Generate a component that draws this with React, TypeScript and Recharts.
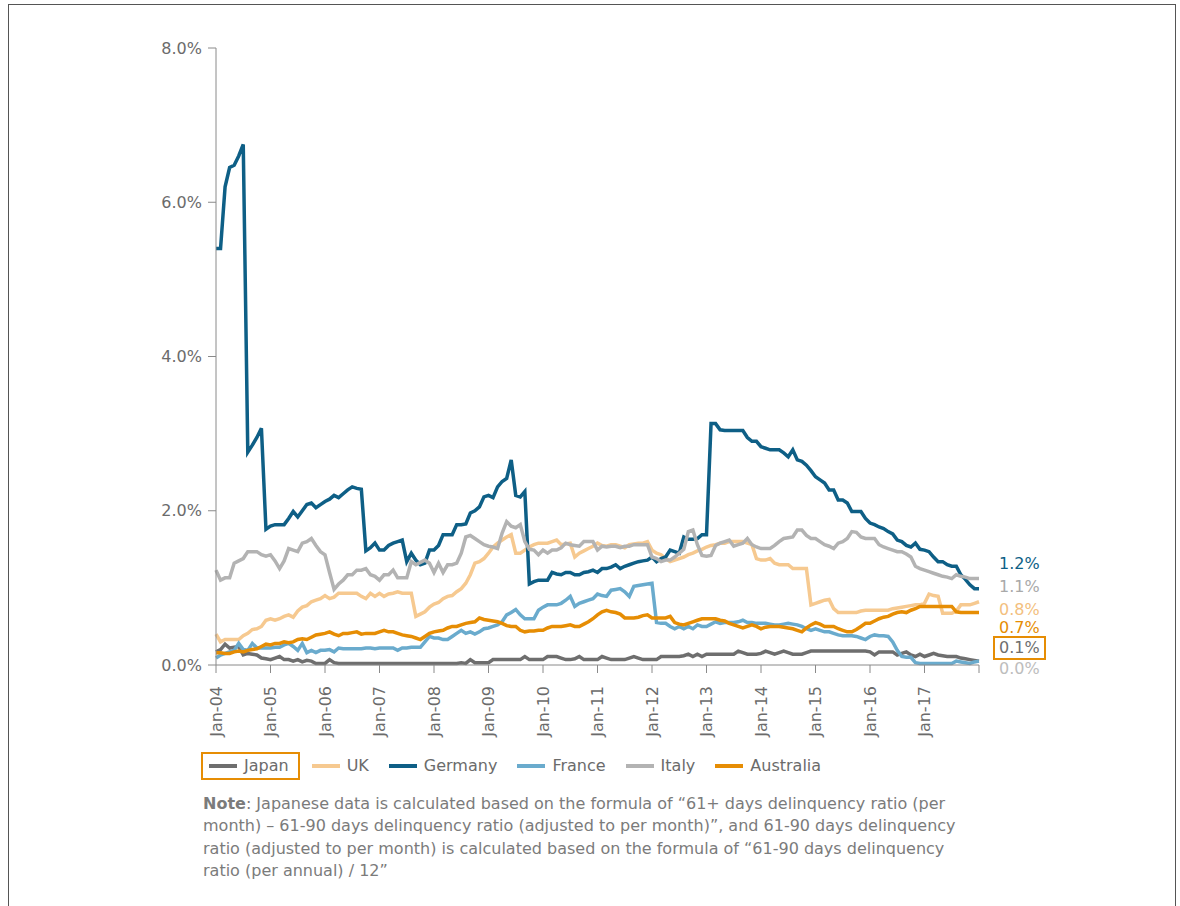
import React from 'react';
import { LineChart, Line, XAxis, YAxis, Legend } from 'recharts';

const FONT = '"DejaVu Sans", Verdana, sans-serif';

// Jan-04 .. Jan-18, one value per month (in %)
const yearLabels = ['Jan-04', 'Jan-05', 'Jan-06', 'Jan-07', 'Jan-08', 'Jan-09', 'Jan-10', 'Jan-11', 'Jan-12', 'Jan-13', 'Jan-14', 'Jan-15', 'Jan-16', 'Jan-17'];

const japan = [
  0.17, 0.2, 0.27, 0.22, 0.23, 0.24, 0.13, 0.15, 0.14, 0.13, 0.09, 0.08,
  0.07, 0.09, 0.11, 0.07, 0.07, 0.05, 0.07, 0.04, 0.06, 0.05, 0.02, 0.02,
  0.02, 0.07, 0.03, 0.02, 0.02, 0.02, 0.02, 0.02, 0.02, 0.02, 0.02, 0.02,
  0.02, 0.02, 0.02, 0.02, 0.02, 0.02, 0.02, 0.02, 0.02, 0.02, 0.02, 0.02,
  0.02, 0.02, 0.02, 0.02, 0.02, 0.02, 0.03, 0.02, 0.07, 0.03, 0.03, 0.03,
  0.03, 0.07, 0.07, 0.07, 0.07, 0.07, 0.07, 0.07, 0.11, 0.07, 0.07, 0.07,
  0.07, 0.11, 0.11, 0.11, 0.09, 0.07, 0.07, 0.08, 0.11, 0.07, 0.07, 0.07,
  0.07, 0.11, 0.09, 0.07, 0.07, 0.07, 0.07, 0.09, 0.11, 0.09, 0.07, 0.07,
  0.07, 0.07, 0.11, 0.11, 0.11, 0.11, 0.11, 0.12, 0.14, 0.11, 0.14, 0.11,
  0.14, 0.14, 0.14, 0.14, 0.14, 0.14, 0.14, 0.18, 0.16, 0.14, 0.14, 0.14,
  0.15, 0.18, 0.16, 0.14, 0.16, 0.18, 0.16, 0.14, 0.14, 0.14, 0.16, 0.18,
  0.18, 0.18, 0.18, 0.18, 0.18, 0.18, 0.18, 0.18, 0.18, 0.18, 0.18, 0.18,
  0.17, 0.13, 0.17, 0.17, 0.17, 0.17, 0.13, 0.15, 0.17, 0.13, 0.11, 0.14,
  0.11, 0.13, 0.15, 0.13, 0.12, 0.11, 0.11, 0.11, 0.09, 0.08, 0.07, 0.06,
  0.05,
];

const uk = [
  0.4, 0.3, 0.33, 0.33, 0.33, 0.33, 0.38, 0.41, 0.46, 0.47, 0.5, 0.58,
  0.6, 0.58, 0.6, 0.63, 0.65, 0.62, 0.7, 0.75, 0.77, 0.82, 0.84, 0.86,
  0.9, 0.86, 0.88, 0.93, 0.93, 0.93, 0.93, 0.93, 0.89, 0.86, 0.93, 0.89,
  0.93, 0.89, 0.92, 0.93, 0.95, 0.93, 0.93, 0.93, 0.63, 0.66, 0.69, 0.75,
  0.79, 0.81, 0.86, 0.89, 0.9, 0.95, 0.99, 1.06, 1.17, 1.32, 1.34, 1.38,
  1.45, 1.53, 1.58, 1.62, 1.66, 1.69, 1.45, 1.45, 1.49, 1.53, 1.56, 1.58,
  1.58, 1.58, 1.6, 1.62, 1.56, 1.57, 1.58, 1.4, 1.45, 1.48, 1.51, 1.54,
  1.58, 1.55, 1.54, 1.56, 1.56, 1.54, 1.52, 1.56, 1.57, 1.58, 1.58, 1.6,
  1.49, 1.45, 1.43, 1.38, 1.34, 1.36, 1.38, 1.4, 1.43, 1.45, 1.48, 1.5,
  1.53, 1.55, 1.56, 1.58, 1.58, 1.6, 1.6, 1.6, 1.6, 1.58, 1.56, 1.38,
  1.36, 1.36, 1.38, 1.32, 1.3, 1.3, 1.3, 1.25, 1.25, 1.25, 1.25, 0.78,
  0.8, 0.82, 0.84, 0.85, 0.73, 0.68, 0.68, 0.68, 0.68, 0.68, 0.7, 0.71,
  0.71, 0.71, 0.71, 0.71, 0.71, 0.73, 0.74, 0.75, 0.76, 0.77, 0.78, 0.78,
  0.8, 0.92, 0.9, 0.89, 0.67, 0.67, 0.67, 0.7, 0.78, 0.78, 0.78, 0.8,
  0.82,
];

const germany = [
  5.4, 5.4, 6.2, 6.45, 6.48, 6.6, 6.75, 2.76, 2.85, 2.95, 3.07, 1.76,
  1.8, 1.82, 1.82, 1.82, 1.9, 1.99, 1.92, 2.0, 2.08, 2.1, 2.04, 2.08,
  2.12, 2.15, 2.2, 2.17, 2.22, 2.27, 2.31, 2.29, 2.28, 1.48, 1.52, 1.58,
  1.49, 1.49, 1.55, 1.58, 1.6, 1.62, 1.34, 1.45, 1.36, 1.3, 1.32, 1.49,
  1.49, 1.55, 1.69, 1.69, 1.69, 1.82, 1.82, 1.83, 1.97, 2.0, 2.05, 2.18,
  2.2, 2.17, 2.31, 2.38, 2.42, 2.66, 2.2, 2.18, 2.25, 1.05, 1.08, 1.1,
  1.1, 1.1, 1.2, 1.18, 1.17, 1.2, 1.2, 1.17, 1.17, 1.2, 1.21, 1.23,
  1.2, 1.25, 1.25, 1.27, 1.3, 1.25, 1.28, 1.3, 1.32, 1.34, 1.35, 1.36,
  1.4, 1.34, 1.38, 1.4, 1.49, 1.47, 1.45, 1.66, 1.63, 1.63, 1.64, 1.69,
  1.69, 3.13, 3.13, 3.05, 3.04, 3.04, 3.04, 3.04, 3.04, 2.95, 2.9, 2.9,
  2.83, 2.81, 2.79, 2.79, 2.79, 2.75, 2.7, 2.79, 2.66, 2.64, 2.59, 2.52,
  2.44, 2.4, 2.36, 2.27, 2.27, 2.14, 2.14, 2.1, 1.99, 1.99, 1.99, 1.9,
  1.84, 1.82, 1.79, 1.77, 1.73, 1.7, 1.62, 1.6, 1.55, 1.53, 1.58, 1.5,
  1.49, 1.47, 1.4, 1.34, 1.34, 1.3, 1.28, 1.28, 1.17, 1.11, 1.04, 0.99,
  0.99,
];

const france = [
  0.09, 0.13, 0.15, 0.17, 0.19, 0.28, 0.2, 0.19, 0.28, 0.22, 0.22, 0.22,
  0.22, 0.23, 0.23, 0.26, 0.28, 0.24, 0.19, 0.28, 0.16, 0.19, 0.16, 0.19,
  0.19, 0.2, 0.17, 0.22, 0.21, 0.21, 0.21, 0.21, 0.21, 0.22, 0.22, 0.21,
  0.22, 0.22, 0.22, 0.22, 0.19, 0.22, 0.22, 0.23, 0.23, 0.23, 0.3, 0.37,
  0.35, 0.35, 0.33, 0.33, 0.37, 0.41, 0.45, 0.41, 0.43, 0.4, 0.43, 0.47,
  0.48, 0.5, 0.52, 0.56, 0.65, 0.68, 0.72, 0.65, 0.6, 0.6, 0.6, 0.71,
  0.75, 0.78, 0.78, 0.78, 0.8, 0.84, 0.89, 0.76, 0.8, 0.82, 0.84, 0.86,
  0.92, 0.9, 0.89, 0.97, 0.98, 0.99, 0.95, 0.89, 1.02, 1.03, 1.04, 1.05,
  1.06, 0.55, 0.54, 0.54, 0.5, 0.47, 0.5, 0.47, 0.5, 0.47, 0.52, 0.5,
  0.5, 0.53, 0.56, 0.54, 0.55, 0.55, 0.55, 0.56, 0.58, 0.55, 0.55, 0.54,
  0.54, 0.54, 0.53, 0.52, 0.52, 0.53, 0.54, 0.53, 0.52, 0.5, 0.47, 0.45,
  0.47, 0.45, 0.43, 0.43, 0.41, 0.39, 0.38, 0.38, 0.38, 0.37, 0.35, 0.33,
  0.37, 0.39, 0.38, 0.38, 0.37, 0.3, 0.19, 0.11, 0.1, 0.1, 0.03, 0.02,
  0.02, 0.02, 0.02, 0.02, 0.02, 0.02, 0.02, 0.05, 0.04, 0.03, 0.02, 0.04,
  0.05,
];

const italy = [
  1.23, 1.1, 1.13, 1.13, 1.32, 1.35, 1.38, 1.47, 1.47, 1.47, 1.43, 1.41,
  1.43, 1.35, 1.25, 1.35, 1.51, 1.49, 1.47, 1.58, 1.6, 1.64, 1.55, 1.47,
  1.43, 1.2, 0.98, 1.05, 1.1, 1.17, 1.17, 1.23, 1.23, 1.25, 1.17, 1.15,
  1.1, 1.17, 1.17, 1.23, 1.13, 1.13, 1.13, 1.34, 1.3, 1.33, 1.36, 1.32,
  1.2, 1.32, 1.2, 1.3, 1.3, 1.32, 1.45, 1.66, 1.68, 1.64, 1.6, 1.56,
  1.54, 1.53, 1.51, 1.71, 1.86, 1.8, 1.78, 1.82, 1.6, 1.5, 1.49, 1.43,
  1.49, 1.45, 1.49, 1.49, 1.52, 1.58, 1.56, 1.55, 1.54, 1.6, 1.6, 1.6,
  1.49, 1.54, 1.53, 1.54, 1.54, 1.52, 1.54, 1.54, 1.56, 1.56, 1.56, 1.56,
  1.4, 1.38, 1.34, 1.36, 1.36, 1.4, 1.45, 1.5, 1.73, 1.75, 1.56, 1.42,
  1.41, 1.42, 1.55, 1.58, 1.6, 1.62, 1.54, 1.56, 1.58, 1.64, 1.56, 1.53,
  1.51, 1.51, 1.51, 1.55, 1.6, 1.64, 1.65, 1.66, 1.75, 1.75, 1.68, 1.64,
  1.64, 1.6, 1.56, 1.54, 1.51, 1.58, 1.6, 1.64, 1.73, 1.72, 1.66, 1.64,
  1.64, 1.64, 1.56, 1.53, 1.51, 1.49, 1.47, 1.47, 1.44, 1.4, 1.28, 1.25,
  1.23, 1.21, 1.19, 1.17, 1.15, 1.14, 1.12, 1.17, 1.15, 1.14, 1.12, 1.12,
  1.12,
];

const australia = [
  0.16, 0.16, 0.15, 0.15, 0.17, 0.18, 0.17, 0.19, 0.2, 0.21, 0.24, 0.27,
  0.26, 0.28, 0.28, 0.3, 0.29, 0.3, 0.33, 0.34, 0.33, 0.36, 0.39, 0.4,
  0.41, 0.43, 0.4, 0.38, 0.41, 0.41, 0.42, 0.43, 0.4, 0.41, 0.41, 0.41,
  0.43, 0.45, 0.43, 0.43, 0.41, 0.39, 0.38, 0.37, 0.35, 0.33, 0.37, 0.41,
  0.43, 0.44, 0.45, 0.48, 0.5, 0.5, 0.52, 0.54, 0.55, 0.56, 0.61, 0.59,
  0.58, 0.57, 0.56, 0.54, 0.51, 0.5, 0.5, 0.45, 0.43, 0.44, 0.44, 0.45,
  0.45, 0.48, 0.5, 0.5, 0.5, 0.51, 0.52, 0.5, 0.5, 0.53, 0.56, 0.6,
  0.65, 0.69, 0.71, 0.69, 0.68, 0.66, 0.61, 0.61, 0.61, 0.62, 0.64, 0.65,
  0.61, 0.61, 0.61, 0.61, 0.63, 0.55, 0.53, 0.52, 0.54, 0.56, 0.58, 0.6,
  0.6, 0.6, 0.6, 0.58, 0.57, 0.54, 0.52, 0.5, 0.48, 0.5, 0.52, 0.5,
  0.47, 0.49, 0.5, 0.5, 0.5, 0.49, 0.48, 0.47, 0.45, 0.43, 0.48, 0.52,
  0.55, 0.53, 0.5, 0.5, 0.5, 0.47, 0.45, 0.43, 0.43, 0.46, 0.5, 0.54,
  0.54, 0.57, 0.6, 0.62, 0.63, 0.66, 0.68, 0.69, 0.68, 0.71, 0.73, 0.76,
  0.76, 0.76, 0.76, 0.76, 0.76, 0.76, 0.76, 0.69, 0.68, 0.68, 0.68, 0.68,
  0.68,
];

// draw order = legend order
const series = [
  { key: 'japan', name: 'Japan', color: '#6e6e6e', values: japan },
  { key: 'uk', name: 'UK', color: '#f6c990', values: uk },
  { key: 'germany', name: 'Germany', color: '#0e5f86', values: germany },
  { key: 'france', name: 'France', color: '#6aabcd', values: france },
  { key: 'italy', name: 'Italy', color: '#b3b3b3', values: italy },
  { key: 'australia', name: 'Australia', color: '#e68d04', values: australia },
];

// latest-value call-outs at the right edge
const endLabels = [
  { text: '1.2%', color: '#0e5f86', top: 549 },
  { text: '1.1%', color: '#a9a9a9', top: 572 },
  { text: '0.8%', color: '#f3bf80', top: 595 },
  { text: '0.7%', color: '#e68d04', top: 613 },
  { text: '0.1%', color: '#6e6e6e', top: 631, boxed: true },
  { text: '0.0%', color: '#bdbdbd', top: 654 },
];

const data = japan.map((_, i) => {
  const row: { [k: string]: number } = { m: i };
  series.forEach(s => { row[s.key] = s.values[i]; });
  return row;
});

const xTicks = [...yearLabels.map((_, i) => i * 12), 168];

const YearTick = (props: any) => {
  const { x, y, payload } = props;
  const label = yearLabels[payload.value / 12] || '';
  return (
    <g transform={`translate(${x},${y})`}>
      <text transform="rotate(-90)" x={-9} y={0} dy="0.36em" textAnchor="end" fill="#6b6b6b" fontSize={16} fontFamily={FONT}>
        {label}
      </text>
    </g>
  );
};

const renderLegend = () => (
  <div style={{ display: 'flex', alignItems: 'center', fontFamily: FONT, fontSize: 16, color: '#6b6b6b', whiteSpace: 'nowrap' }}>
    {series.map(s => {
      const boxed = s.key === 'japan';
      return (
        <div
          key={s.key}
          style={{
            display: 'flex',
            alignItems: 'center',
            marginRight: boxed ? 12 : 20,
            border: boxed ? '2px solid #e68d04' : 'none',
            padding: boxed ? '2px 9px 2px 6px' : 0,
            lineHeight: '20px',
          }}
        >
          <span style={{ display: 'inline-block', width: 28, height: 4, background: s.color, marginRight: 7 }} />
          <span>{s.name}</span>
        </div>
      );
    })}
  </div>
);

export default function App() {
  return (
    <div style={{ position: 'absolute', left: 8, top: 4, boxSizing: 'border-box', width: 1168, height: 902, border: '1px solid #555', borderBottom: 'none', fontFamily: FONT, overflow: 'hidden' }}>
      <div style={{ position: 'absolute', left: 141, top: 25 }}>
        <LineChart width={910} height={770} data={data} margin={{ top: 18, right: 81, bottom: 55, left: 0 }}>
          <XAxis
            dataKey="m"
            type="number"
            domain={[0, 168]}
            ticks={xTicks}
            interval={0}
            tick={<YearTick />}
            height={80}
            tickSize={8}
            tickMargin={4}
            stroke="#8a8a8a"
            axisLine={{ stroke: '#8a8a8a' }}
            tickLine={{ stroke: '#8a8a8a' }}
          />
          <YAxis
            domain={[0, 8]}
            ticks={[0, 2, 4, 6, 8]}
            tickFormatter={(v: number) => `${v.toFixed(1)}%`}
            width={66}
            tickSize={8}
            tickMargin={6}
            tick={{ fill: '#6b6b6b', fontSize: 16, fontFamily: FONT }}
            stroke="#8a8a8a"
          />
          {series.map(s => (
            <Line
              key={s.key}
              type="linear"
              dataKey={s.key}
              name={s.name}
              stroke={s.color}
              strokeWidth={3.5}
              dot={false}
              activeDot={false}
              isAnimationActive={false}
            />
          ))}
          <Legend
            layout="horizontal"
            verticalAlign="middle"
            content={renderLegend}
            wrapperStyle={{ top: 722, left: 51, width: 'auto', height: 'auto' }}
          />
        </LineChart>
      </div>

      {endLabels.map(l => (
        <div
          key={l.text}
          style={{
            position: 'absolute',
            left: l.boxed ? 984 : 990,
            top: l.top,
            color: l.color,
            fontSize: 16,
            lineHeight: '20px',
            border: l.boxed ? '2px solid #e68d04' : 'none',
            padding: l.boxed ? '0 4px' : 0,
          }}
        >
          {l.text}
        </div>
      ))}

      <div style={{ position: 'absolute', left: 194, top: 788, fontSize: 16, lineHeight: '22.4px', color: '#7b7b7b', whiteSpace: 'nowrap' }}>
        <b>Note</b>: Japanese data is calculated based on the formula of “61+ days delinquency ratio (per
        <br />
        month) – 61-90 days delinquency ratio (adjusted to per month)”, and 61-90 days delinquency
        <br />
        ratio (adjusted to per month) is calculated based on the formula of “61-90 days delinquency
        <br />
        ratio (per annual) / 12”
      </div>
    </div>
  );
}
